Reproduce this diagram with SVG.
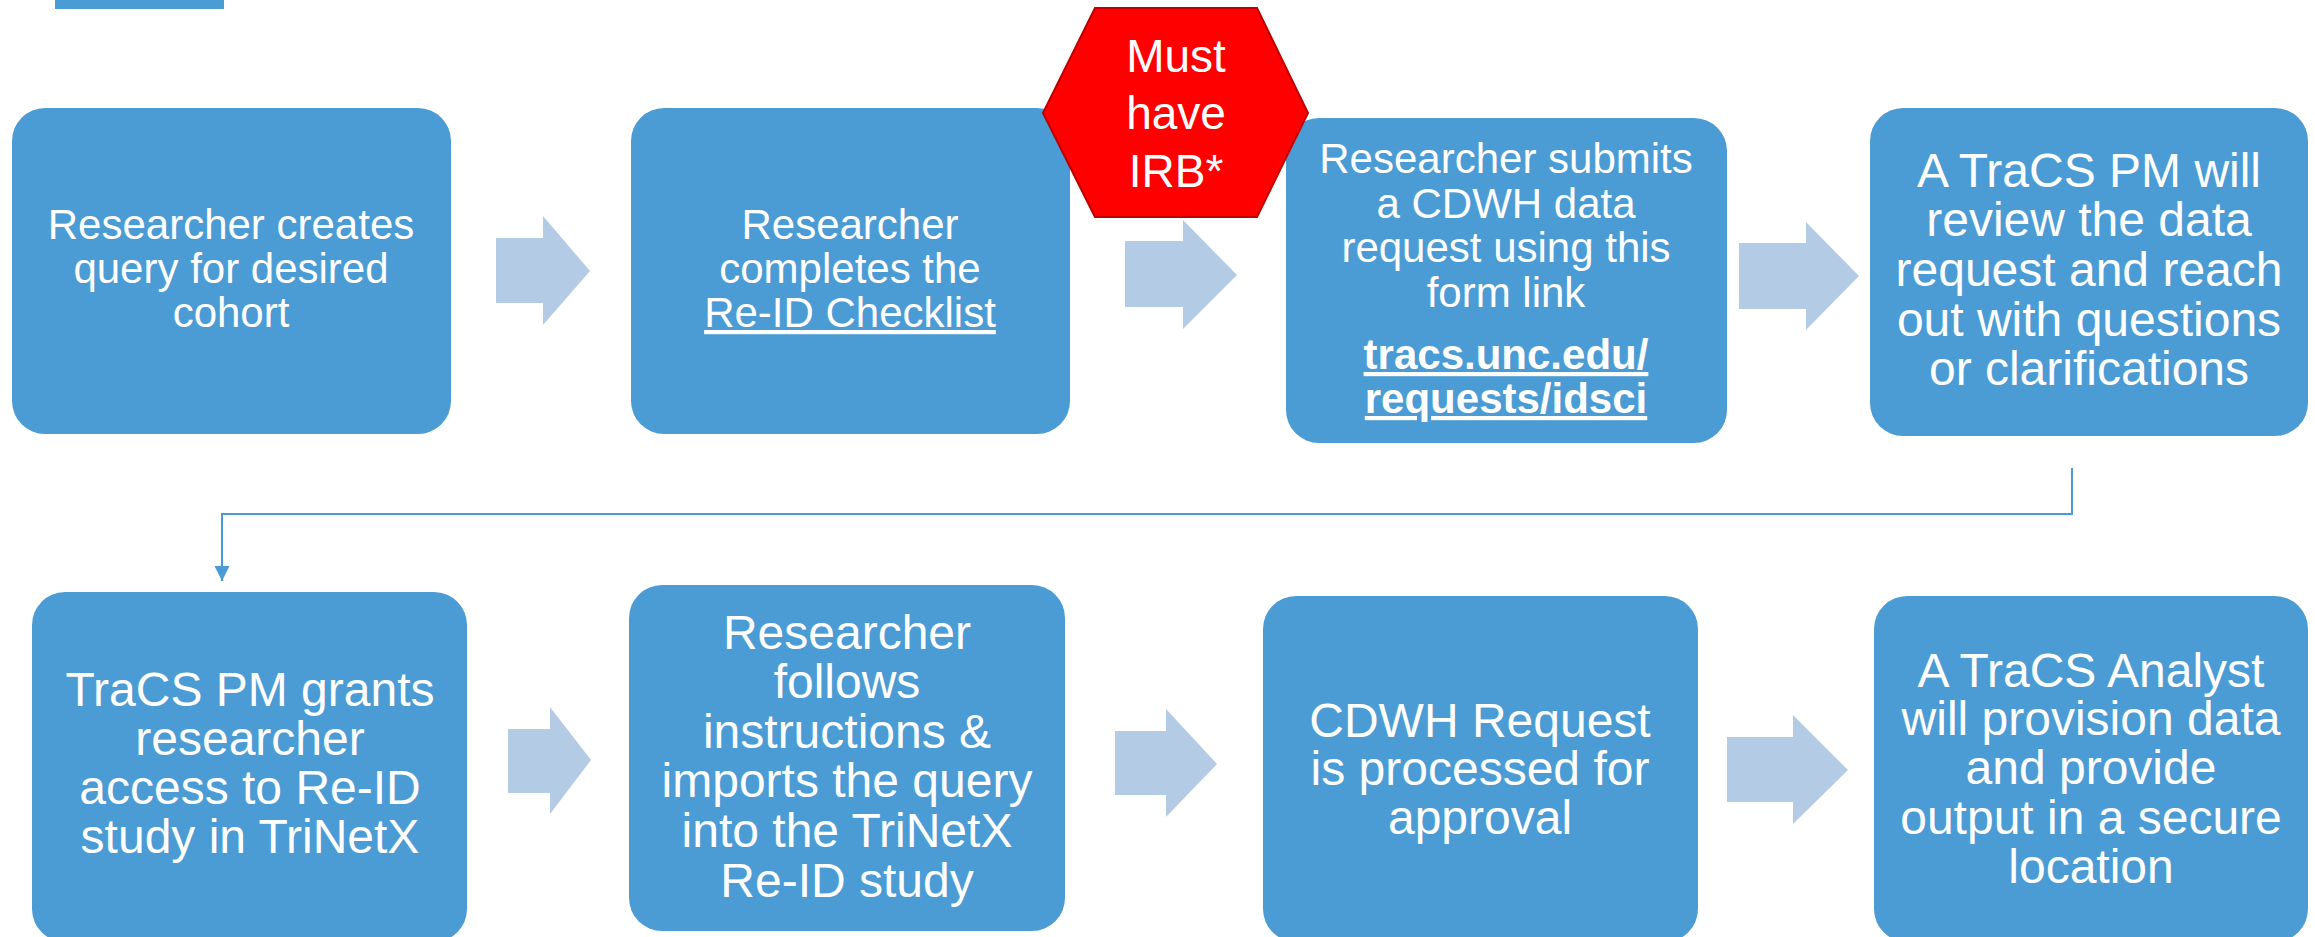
<svg xmlns="http://www.w3.org/2000/svg" width="2315" height="937" viewBox="0 0 2315 937">
<style>
.box{fill:#4B9CD4;}
.arr{fill:#B4CBE5;}
.t{font-family:"Liberation Sans",Arial,sans-serif;fill:#FFFFFF;text-anchor:middle;}
.s42{font-size:42px;}
.s48{font-size:48px;}
.s46{font-size:46px;}
.u{text-decoration:underline;}
.b{font-weight:bold;}
.conn{fill:none;stroke:#4A9BD5;stroke-width:2;}
</style>
<defs>
<marker id="ah" markerUnits="userSpaceOnUse" markerWidth="16" markerHeight="16" refX="15" refY="7.5" orient="auto">
<path d="M0,0 L15,7.5 L0,15 z" fill="#4A9BD5"/>
</marker>
</defs>
<rect x="55" y="0" width="169" height="9" fill="#4B9CD4"/>
<g id="connectors">
<path class="conn" d="M2072,468 V514 H222 V581" marker-end="url(#ah)"/>
<polygon class="arr" points="496,238 543,238 543,216 590,271 543,325 543,303 496,303"/>
<polygon class="arr" points="1125,241 1183,241 1183,220 1237,275 1183,329 1183,307 1125,307"/>
<polygon class="arr" points="1739,243 1806,243 1806,222 1859,276 1806,330 1806,309 1739,309"/>
<polygon class="arr" points="508,729 550,729 550,707 591,760 550,814 550,793 508,793"/>
<polygon class="arr" points="1115,731 1166,731 1166,709 1217,764 1166,817 1166,795 1115,795"/>
<polygon class="arr" points="1727,737 1793,737 1793,715 1848,770 1793,824 1793,802 1727,802"/>
</g>
<g id="n1">
<rect class="box" x="12" y="108" width="439" height="326" rx="33"/>
<text class="t s42"><tspan x="231" y="239">Researcher creates</tspan><tspan x="231" y="283">query for desired</tspan><tspan x="231" y="327">cohort</tspan></text>
</g>
<g id="n2">
<rect class="box" x="631" y="108" width="439" height="326" rx="33"/>
<text class="t s42"><tspan x="850" y="239">Researcher</tspan><tspan x="850" y="283">completes the</tspan><tspan x="850" y="327" class="u">Re-ID Checklist</tspan></text>
</g>
<g id="n3">
<rect class="box" x="1286" y="118" width="441" height="325" rx="33"/>
<text class="t s42"><tspan x="1506" y="173">Researcher submits</tspan><tspan x="1506" y="218">a CDWH data</tspan><tspan x="1506" y="262">request using this</tspan><tspan x="1506" y="307">form link</tspan></text>
<text class="t s42 b u"><tspan x="1506" y="369">tracs.unc.edu/</tspan><tspan x="1506" y="413">requests/idsci</tspan></text>
</g>
<g id="irb">
<polygon points="1043,113 1095,8 1257,8 1308,113 1257,217 1095,217" fill="#FF0000" stroke="#C00000" stroke-width="2"/>
<text class="t s46"><tspan x="1176" y="72">Must</tspan><tspan x="1176" y="129">have</tspan><tspan x="1176" y="187">IRB*</tspan></text>
</g>
<g id="n4">
<rect class="box" x="1870" y="108" width="438" height="328" rx="33"/>
<text class="t s48"><tspan x="2089" y="187">A TraCS PM will</tspan><tspan x="2089" y="236">review the data</tspan><tspan x="2089" y="286">request and reach</tspan><tspan x="2089" y="336">out with questions</tspan><tspan x="2089" y="385">or clarifications</tspan></text>
</g>
<g id="n5">
<rect class="box" x="32" y="592" width="435" height="350" rx="33"/>
<text class="t s48"><tspan x="250" y="706">TraCS PM grants</tspan><tspan x="250" y="755">researcher</tspan><tspan x="250" y="804">access to Re-ID</tspan><tspan x="250" y="853">study in TriNetX</tspan></text>
</g>
<g id="n6">
<rect class="box" x="629" y="585" width="436" height="346" rx="33"/>
<text class="t s48"><tspan x="847" y="649">Researcher</tspan><tspan x="847" y="698">follows</tspan><tspan x="847" y="748">instructions &amp;</tspan><tspan x="847" y="797">imports the query</tspan><tspan x="847" y="847">into the TriNetX</tspan><tspan x="847" y="897">Re-ID study</tspan></text>
</g>
<g id="n7">
<rect class="box" x="1263" y="596" width="435" height="346" rx="33"/>
<text class="t s48"><tspan x="1480" y="737">CDWH Request</tspan><tspan x="1480" y="785">is processed for</tspan><tspan x="1480" y="834">approval</tspan></text>
</g>
<g id="n8">
<rect class="box" x="1874" y="596" width="434" height="346" rx="33"/>
<text class="t s48"><tspan x="2091" y="687">A TraCS Analyst</tspan><tspan x="2091" y="735">will provision data</tspan><tspan x="2091" y="784">and provide</tspan><tspan x="2091" y="834">output in a secure</tspan><tspan x="2091" y="883">location</tspan></text>
</g>
</svg>
